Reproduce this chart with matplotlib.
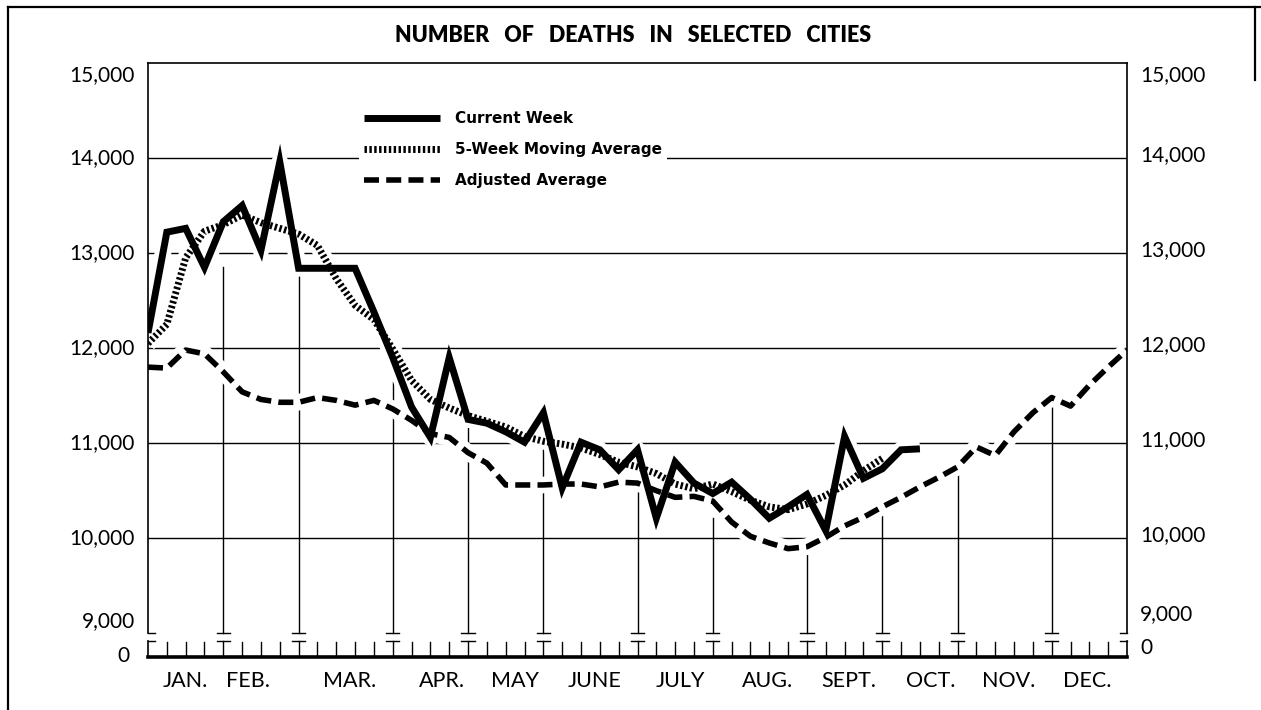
import numpy as np
import matplotlib
matplotlib.use('Agg')
import matplotlib.pyplot as plt
from matplotlib.lines import Line2D

TITLE = 'NUMBER   OF   DEATHS   IN   SELECTED   CITIES'

months = ['JAN.', 'FEB.', 'MAR.', 'APR.', 'MAY', 'JUNE', 'JULY', 'AUG.', 'SEPT.', 'OCT.', 'NOV.', 'DEC.']
# week index at which each month begins (last entry = end of year)
month_edges = [0, 4, 8, 13, 17, 21, 26, 30, 35, 39, 43, 48, 52]

# weekly deaths
current_week = [12160, 13220, 13260, 12850, 13330, 13500, 13030, 13960, 12840, 12840,
                12840, 12840, 12380, 11900, 11380, 11060, 11900, 11250, 11210, 11120,
                11010, 11320, 10530, 11010, 10930, 10720, 10930, 10210, 10800, 10580,
                10470, 10590, 10410, 10210, 10330, 10460, 10080, 11070, 10630, 10730,
                10930, 10940]
moving_avg = [12050, 12250, 12950, 13230, 13300, 13400, 13320, 13260, 13200, 13080,
              12730, 12450, 12300, 11990, 11660, 11460, 11370, 11290, 11230, 11170,
              11070, 11020, 10990, 10950, 10880, 10800, 10750, 10680, 10570, 10520,
              10570, 10490, 10400, 10330, 10300, 10360, 10450, 10560, 10710, 10840]
adjusted_avg = [11800, 11790, 11980, 11940, 11750, 11540, 11460, 11430, 11430, 11480,
                11450, 11400, 11450, 11360, 11240, 11100, 11060, 10900, 10790, 10560,
                10560, 10560, 10570, 10570, 10540, 10590, 10580, 10500, 10430, 10440,
                10390, 10170, 10020, 9950, 9890, 9910, 10010, 10130, 10220, 10330,
                10430, 10540, 10640, 10750, 10960, 10870, 11120, 11320, 11480, 11390,
                11610, 11800, 11980]

# layout helpers (not data)
month_label_x = [2.0, 5.3, 10.7, 15.6, 19.5, 23.7, 28.3, 32.9, 37.2, 41.6, 45.7, 49.9]
month_line_top = [12850, 12980, 11640, 11210, 11000, 10560, 10210, 9870, 10270, 10690, 11420]

BASE = 8750    # where "0" sits (broken axis)
BREAK = 8920   # lower half of the break mark
FONT = 'Lato'

fig = plt.figure(figsize=(12.61, 7.10), dpi=100)
ax = fig.add_axes([148 / 1261, 1 - 657 / 710, 979 / 1261, 594 / 710])
ax.set_xlim(0, 52)
ax.set_ylim(BASE, 15000)

# grid + frame
for v in range(10000, 15000, 1000):
    ax.axhline(v, color='black', lw=1.0, zorder=1)
for s in ['left', 'right']:
    ax.spines[s].set_bounds(9000, 15000)
    ax.spines[s].set_linewidth(1.2)
ax.spines['top'].set_linewidth(1.2)
ax.spines['bottom'].set_linewidth(2.6)
for xe in (0, 52):
    ax.plot([xe, xe], [BASE, BREAK], color='black', lw=1.2, clip_on=False, zorder=3)

# month dividers with break marks, weekly ticks
hw = 0.35
for e in month_edges:
    x0 = e - hw if e > 0 else e
    x1 = e + hw if e < 52 else e
    for yb in (9000, BREAK):
        ax.plot([x0, x1], [yb, yb], color='black', lw=1.0, clip_on=False, zorder=3)
for e, top in zip(month_edges[1:-1], month_line_top):
    ax.plot([e, e], [9000, top], color='black', lw=1.0, zorder=1)
    ax.plot([e, e], [BASE, BREAK], color='black', lw=1.0, zorder=1)
for w in range(1, 52):
    if w not in month_edges:
        ax.plot([w, w], [BASE, 8905], color='black', lw=1.0, zorder=1)

# series: white halo first so gridlines break around the curves
series = [
    (current_week, dict(color='black', lw=5, solid_joinstyle='miter', solid_capstyle='butt')),
    (moving_avg, dict(color='black', lw=5, linestyle=(0, (0.35, 0.35)), dash_capstyle='butt')),
    (adjusted_avg, dict(color='black', lw=4, linestyle=(0, (2.7, 1.3)), dash_capstyle='butt')),
]
for vals, _ in series:
    ax.plot(np.arange(len(vals)), vals, color='white', lw=12, zorder=2, solid_capstyle='butt')
for i, (vals, kw) in enumerate(series):
    ax.plot(np.arange(len(vals)), vals, zorder=4 + i, **kw)

# y labels on both sides
ax.set_yticks([])
ax.set_xticks([])
ylabels = [(BASE, '0'), (9000, '9,000'), (10000, '10,000'), (11000, '11,000'),
           (12000, '12,000'), (13000, '13,000'), (14000, '14,000'), (15000, '15,000')]
left_dy = {BASE: 1, 9000: 8.5, 15000: -8.5}
right_dy = {BASE: 6.5, 9000: 14, 15000: -8.5}
for v, lab in ylabels:
    ax.annotate(lab, xy=(0, v), xycoords=('axes fraction', 'data'),
                xytext=(-9.5 if v != BASE else -13, left_dy.get(v, 0)), textcoords='offset points',
                ha='right', va='center', fontsize=15, family=FONT)
    ax.annotate(lab, xy=(1, v), xycoords=('axes fraction', 'data'),
                xytext=(9.5, right_dy.get(v, 2)), textcoords='offset points',
                ha='left', va='center', fontsize=15, family=FONT)

for xm, m in zip(month_label_x, months):
    ax.annotate(m, xy=(xm, 0), xycoords=('data', 'axes fraction'),
                xytext=(0, -17), textcoords='offset points',
                ha='center', va='center', fontsize=15.5, family=FONT)

# legend
handles = [Line2D([], [], **kw) for _, kw in series]
leg = ax.legend(handles, ['Current Week', '5-Week Moving Average', 'Adjusted Average'],
                loc='upper left', bbox_to_anchor=(0.2155, 0.9266), borderaxespad=0,
                handlelength=5.0, handletextpad=1.0, labelspacing=1.05, borderpad=0.3,
                frameon=True, fancybox=False, framealpha=1, facecolor='white', edgecolor='none',
                prop={'family': 'DejaVu Sans', 'weight': 'bold', 'size': 11})
leg.set_zorder(10)

fig.text(633 / 1261, 1 - 35 / 710, TITLE, ha='center', va='center',
         fontsize=15.5, fontweight='heavy', family=FONT)

# scanned page border
for xs, ys in [([8, 8], [7, 710]), ([8, 1261], [7, 7]), ([1255, 1255], [7, 80])]:
    fig.add_artist(Line2D([x / 1261 for x in xs], [1 - y / 710 for y in ys],
                          transform=fig.transFigure, color='black', lw=1.6))

fig.savefig('out.png', dpi=100, facecolor='white')
